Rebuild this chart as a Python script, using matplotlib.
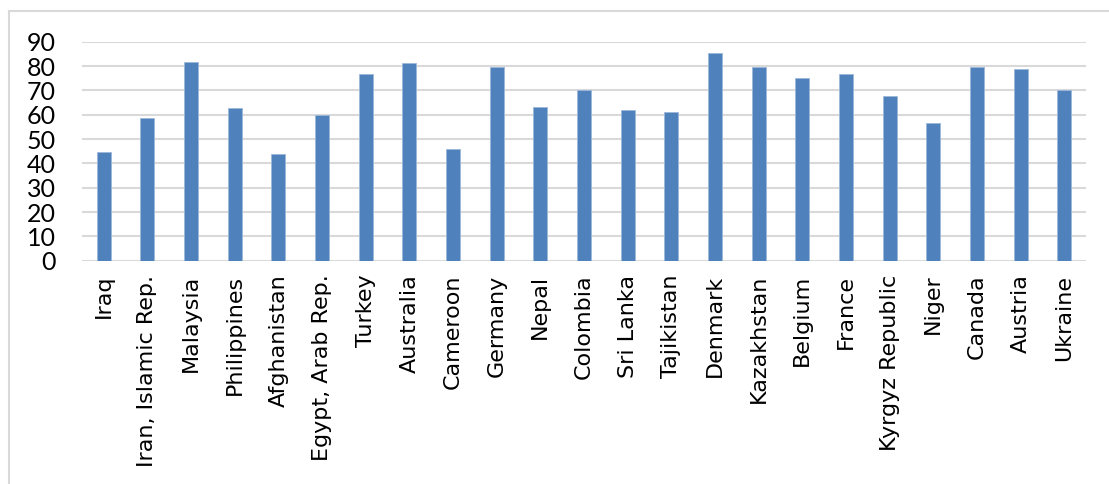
import matplotlib.pyplot as plt
from matplotlib.lines import Line2D
import numpy as np

countries = ['Iraq', 'Iran, Islamic Rep.', 'Malaysia', 'Philippines', 'Afghanistan',
             'Egypt, Arab Rep.', 'Turkey', 'Australia', 'Cameroon', 'Germany', 'Nepal',
             'Colombia', 'Sri Lanka', 'Tajikistan', 'Denmark', 'Kazakhstan', 'Belgium',
             'France', 'Kyrgyz Republic', 'Niger', 'Canada', 'Austria', 'Ukraine']
values = [44.7, 58.5, 81.5, 62.8, 44.0, 60.0, 76.7, 81.1, 46.0, 79.7, 63.0,
          70.0, 61.8, 61.2, 85.2, 79.6, 75.0, 76.7, 67.7, 56.7, 79.6, 78.8, 70.1]
yticks = [0, 10, 20, 30, 40, 50, 60, 70, 80, 90]

fig = plt.figure(figsize=(11.09, 4.84), dpi=100)
ax = fig.add_axes([82 / 1109, 1 - 260.7 / 484, 1004 / 1109, 219 / 484])

x = np.arange(len(countries))
ax.bar(x, values, width=0.32, color='#4f81bd', edgecolor='#9db7d9', linewidth=0.6, zorder=3)

ax.set_xlim(-0.5, len(countries) - 0.5)
ax.set_ylim(0, 90)
ax.set_yticks(yticks)
ax.set_yticklabels([str(t) for t in yticks], fontsize=18, family='Lato')
ax.set_xticks(x)
ax.set_xticklabels(countries, rotation=90, fontsize=16, family='DejaVu Sans')
ax.tick_params(axis='y', length=0, pad=19)
ax.tick_params(axis='x', length=0, pad=10)
ax.grid(axis='y', color='#d9d9d9', linewidth=1.5, zorder=0)
for s in ax.spines.values():
    s.set_visible(False)

# light frame around the chart area
fig.add_artist(Line2D([9 / 1109, 9 / 1109], [0, 1 - 11 / 484], color='#d9d9d9', lw=1.5))
fig.add_artist(Line2D([9 / 1109, 1], [1 - 11 / 484, 1 - 11 / 484], color='#d9d9d9', lw=1.5))

plt.savefig('out.png', dpi=100)
